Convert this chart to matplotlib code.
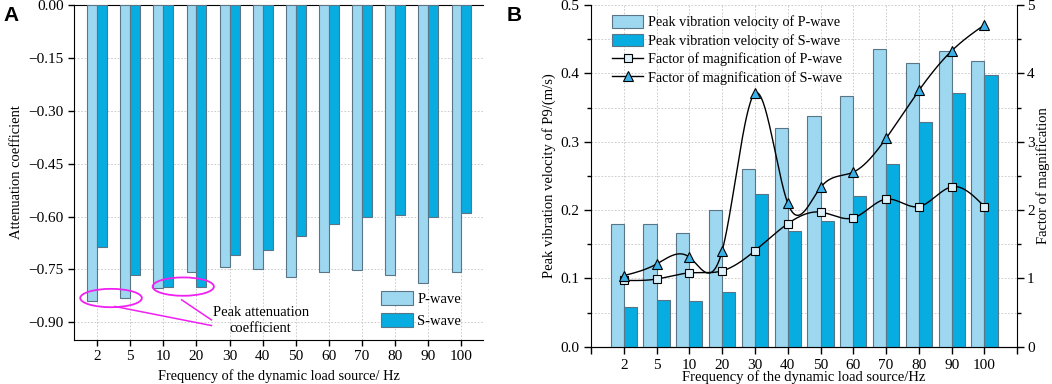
import numpy as np
import matplotlib
matplotlib.use("Agg")
import matplotlib.pyplot as plt
from matplotlib.patches import Ellipse
from matplotlib.lines import Line2D
from matplotlib.ticker import MultipleLocator, FuncFormatter

plt.rcParams['font.family'] = ['Liberation Serif', 'DejaVu Serif']
plt.rcParams['font.size'] = 10

freqs = ['2', '5', '10', '20', '30', '40', '50', '60', '70', '80', '90', '100']

# panel A: attenuation coefficient
att_p = [-0.839, -0.831, -0.803, -0.756, -0.743, -0.749, -0.770, -0.756, -0.752, -0.766, -0.788, -0.757]
att_s = [-0.687, -0.767, -0.800, -0.800, -0.710, -0.694, -0.655, -0.620, -0.602, -0.595, -0.600, -0.590]

# panel B: peak vibration velocity and magnification factor
vel_p = [0.180, 0.180, 0.1665, 0.200, 0.260, 0.320, 0.337, 0.367, 0.436, 0.415, 0.432, 0.418]
vel_s = [0.0587, 0.0686, 0.067, 0.080, 0.223, 0.1695, 0.184, 0.220, 0.267, 0.329, 0.372, 0.398]
mag_p = [0.97, 0.99, 1.08, 1.11, 1.405, 1.80, 1.97, 1.885, 2.16, 2.05, 2.34, 2.05]
mag_s = [1.04, 1.21, 1.31, 1.405, 3.71, 2.10, 2.33, 2.555, 3.05, 3.75, 4.33, 4.71]

c_light = '#9dd7f0'
c_dark = '#07ade1'
c_edge = '#5a7585'
grid_kw = dict(color='#c4c4c4', linestyle=(0, (2, 2)), linewidth=0.6)


def spline(x, y, n=600):
    # natural cubic spline, used only to draw the smoothed connecting line
    x = np.asarray(x, float)
    y = np.asarray(y, float)
    k = len(x)
    h = np.diff(x)
    A = np.zeros((k, k))
    r = np.zeros(k)
    A[0, 0] = A[-1, -1] = 1
    for i in range(1, k - 1):
        A[i, i - 1] = h[i - 1]
        A[i, i] = 2 * (h[i - 1] + h[i])
        A[i, i + 1] = h[i]
        r[i] = 6 * ((y[i + 1] - y[i]) / h[i] - (y[i] - y[i - 1]) / h[i - 1])
    M = np.linalg.solve(A, r)
    xs = np.linspace(x[0], x[-1], n)
    j = np.clip(np.searchsorted(x, xs) - 1, 0, k - 2)
    t0 = x[j + 1] - xs
    t1 = xs - x[j]
    hj = h[j]
    ys = (M[j] * t0**3 + M[j + 1] * t1**3) / (6 * hj) \
        + (y[j] / hj - M[j] * hj / 6) * t0 + (y[j + 1] / hj - M[j + 1] * hj / 6) * t1
    return xs, ys


fig = plt.figure(figsize=(10.52, 3.84), dpi=100)
x = np.arange(len(freqs))

# ---------------- panel A ----------------
ax = fig.add_axes([0.0703, 0.1146, 0.3888, 0.8724])
ax.bar(x - 0.15, att_p, 0.3, color=c_light, edgecolor=c_edge, linewidth=0.8, label='P-wave', zorder=3)
ax.bar(x + 0.15, att_s, 0.3, color=c_dark, edgecolor=c_edge, linewidth=0.8, label='S-wave', zorder=3)
ax.set_xlim(-0.7, 11.65)
ax.set_ylim(-0.95, 0)
ax.set_xticks(x)
ax.set_xticklabels(freqs)
ax.yaxis.set_major_locator(MultipleLocator(0.15))
ax.yaxis.set_major_formatter(FuncFormatter(lambda v, p: f"{v:.2f}".replace('-', '\u2212') if abs(v) > 1e-9 else "0.00"))
ax.grid(True, **grid_kw)
ax.set_axisbelow(True)
ax.spines['right'].set_visible(False)
ax.tick_params(direction='out', length=4, width=1, labelsize=11)
ax.set_xlabel('Frequency of the dynamic load source/ Hz', fontsize=10.3)
ax.set_ylabel('Attenuation coefficient', fontsize=10.5)
ax.legend(loc='lower right', bbox_to_anchor=(0.975, 0.0), frameon=False, fontsize=10.5,
          handlelength=2.2, handleheight=1.1, labelspacing=0.5, handletextpad=0.3, borderaxespad=0.4)

# annotations
ax.add_patch(Ellipse((0.42, -0.831), 1.86, 0.052, fill=False, edgecolor='#f020f0', linewidth=1.3, zorder=5))
ax.add_patch(Ellipse((2.6, -0.7986), 1.85, 0.052, fill=False, edgecolor='#f020f0', linewidth=1.3, zorder=5))
ax.plot([0.54, 3.45], [-0.855, -0.909], color='#f020f0', linewidth=1.1, zorder=5)
ax.plot([2.55, 3.45], [-0.836, -0.893], color='#f020f0', linewidth=1.1, zorder=5)
ax.text(4.94, -0.895, 'Peak attenuation\ncoefficient', ha='center', va='center', fontsize=10.5,
        linespacing=1.3, zorder=6)

fig.text(0.003, 0.985, 'A', family='Liberation Sans', fontweight='bold', fontsize=15, va='top')

# ---------------- panel B ----------------
bx = fig.add_axes([0.5618, 0.0971, 0.4052, 0.8898])
b1 = bx.bar(x - 0.2, vel_p, 0.4, color=c_light, edgecolor=c_edge, linewidth=0.8, zorder=3)
b2 = bx.bar(x + 0.2, vel_s, 0.4, color=c_dark, edgecolor=c_edge, linewidth=0.8, zorder=3)
bx.set_xlim(-1, 12)
bx.set_ylim(0, 0.5)
bx.set_xticks(np.arange(-1, 13))
bx.set_xticklabels([''] + freqs + [''])
bx.yaxis.set_major_locator(MultipleLocator(0.1))
bx.yaxis.set_minor_locator(MultipleLocator(0.05))
bx.yaxis.set_major_formatter(FuncFormatter(lambda v, p: f"{v:.1f}"))
bx.grid(True, which='both', axis='y', **grid_kw)
bx.grid(True, which='major', axis='x', **grid_kw)
bx.set_axisbelow(True)
bx.spines['top'].set_visible(False)
bx.spines['right'].set_visible(False)
bx.tick_params(which='major', direction='out', length=5, width=1, labelsize=11)
bx.tick_params(which='minor', direction='out', length=3, width=1)
bx.set_xlabel('Frequency of the dynamic load source/Hz', fontsize=10.5, labelpad=-1)
bx.set_ylabel('Peak vibration velocity of P9/(m/s)', fontsize=10.5, labelpad=3)

bx2 = bx.twinx()
bx2.set_ylim(0, 5)
bx2.yaxis.set_major_locator(MultipleLocator(1))
bx2.yaxis.set_minor_locator(MultipleLocator(0.5))
bx2.spines['top'].set_visible(False)
bx2.spines['left'].set_visible(False)
bx2.tick_params(which='major', direction='out', length=5, width=1, labelsize=11, pad=2)
bx2.tick_params(which='minor', direction='out', length=3, width=1)
bx2.set_ylabel('Factor of magnification', fontsize=10.5, labelpad=1)

xs, ys = spline(x, mag_p)
bx2.plot(xs, ys, color='black', linewidth=1.0, zorder=4)
xs, ys = spline(x, mag_s)
bx2.plot(xs, ys, color='black', linewidth=1.0, zorder=4)
bx2.plot(x, mag_p, linestyle='none', marker='s', markersize=6,
         markerfacecolor='#dcf1fa', markeredgecolor='black', markeredgewidth=0.8, zorder=5)
bx2.plot(x, mag_s, linestyle='none', marker='^', markersize=7,
         markerfacecolor='#3cb1e8', markeredgecolor='black', markeredgewidth=0.8, zorder=5)

h1 = Line2D([], [], color='black', linewidth=1.0, marker='s', markersize=6, markerfacecolor='#dcf1fa',
            markeredgecolor='black', markeredgewidth=0.8)
h2 = Line2D([], [], color='black', linewidth=1.0, marker='^', markersize=7, markerfacecolor='#3cb1e8',
            markeredgecolor='black', markeredgewidth=0.8)
bx2.legend([b1, b2, h1, h2],
           ['Peak vibration velocity of P-wave', 'Peak vibration velocity of S-wave',
            'Factor of magnification of P-wave', 'Factor of magnification of S-wave'],
           loc='upper left', bbox_to_anchor=(0.03, 0.995), frameon=False, fontsize=10.2,
           handlelength=2.2, handleheight=1.0, labelspacing=0.3, handletextpad=0.3, borderaxespad=0.2)

fig.text(0.482, 0.985, 'B', family='Liberation Sans', fontweight='bold', fontsize=15, va='top')

fig.savefig('out.png', dpi=100)
